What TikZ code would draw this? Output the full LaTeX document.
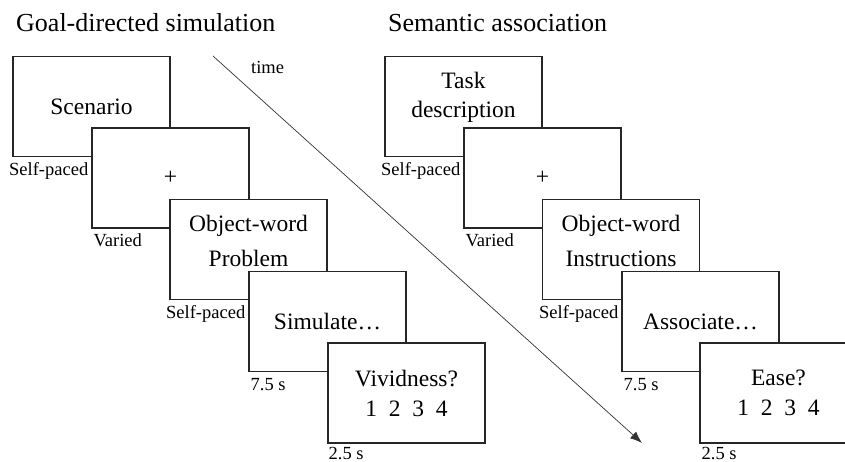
\documentclass[tikz,border=0pt]{standalone}
\usepackage{fontspec}
\setmainfont{Liberation Serif}
\usetikzlibrary{positioning,arrows.meta}

\begin{document}
\begin{tikzpicture}[
    x=1pt, y=-1pt,
    screen/.style={rectangle, draw=black!85, line width=1.1pt, fill=white, minimum width=157pt, minimum height=100pt, inner sep=0pt, align=center, font=\fontsize{23.5}{29}\selectfont},
    wide/.style={font=\fontsize{23.5}{35}\selectfont, text depth=17.7pt},
    timing/.style={inner sep=0pt, font=\fontsize{18.5}{22}\selectfont},
    timeleft/.style={timing, anchor=base west, xshift=2pt, yshift=-18pt},
    timeright/.style={timing, anchor=base east, xshift=-3pt, yshift=-18pt},
    heading/.style={inner sep=0pt, anchor=base west, font=\fontsize{26}{30}\selectfont},
    timeline/.style={-{Latex[length=12pt,width=9pt]}, line width=0.7pt, black!80}
  ]
    \useasboundingbox (0,0) rectangle (845,462);

    % Left: goal-directed simulation trial
    \node[heading] (goaltitle) at (16,32) {Goal-directed simulation};
    \node[screen] (scen) at (91.5,106.5) {Scenario};
    \node[screen] (gfix) at (170.5,178) {+};
    \node[screen, wide] (prob) at (248.5,249.5) {Object-word\\Problem};
    \node[screen] (sim) at (327.5,321.5) {Simulate…};
    \node[screen] (vivid) at (406.5,393) {Vividness?\\[1pt]1\ \ 2\ \ 3\ \ 4};

    \node[timeright] (scenlbl) at (scen.south -| gfix.west) {Self-paced};
    \node[timeleft] (gfixlbl) at (gfix.south west) {Varied};
    \node[timeright] (problbl) at (prob.south -| sim.west) {Self-paced};
    \node[timeleft] (simlbl) at (sim.south west) {7.5 s};
    \node[timeleft, xshift=-1pt, yshift=2pt] (vividlbl) at (vivid.south west) {2.5 s};

    % Right: semantic association trial
    \node[heading] (semtitle) at (388,32) {Semantic association};
    \node[screen, text depth=23.7pt] (task) at (463.5,106.5) {Task\\description};
    \node[screen] (sfix) at (542.5,178) {+};
    \node[screen, wide] (instr) at (621,249.5) {Object-word\\Instructions};
    \node[screen] (assoc) at (700.5,321.5) {Associate…};
    \node[screen] (ease) at (778.5,393) {Ease?\\[1pt]1\ \ 2\ \ 3\ \ 4};

    \node[timeright] (tasklbl) at (task.south -| sfix.west) {Self-paced};
    \node[timeleft] (sfixlbl) at (sfix.south west) {Varied};
    \node[timeright] (instrlbl) at (instr.south -| assoc.west) {Self-paced};
    \node[timeleft] (assoclbl) at (assoc.south west) {7.5 s};
    \node[timeleft, yshift=2pt] (easelbl) at (ease.south west) {2.5 s};

    % Time axis
    \coordinate (tstart) at (213,56);
    \coordinate (tend) at (642,443);
    \draw[timeline] (tstart) -- (tend);
    \node[timing, anchor=base west] (timelbl) at (251,74) {time};
  \end{tikzpicture}
\end{document}
